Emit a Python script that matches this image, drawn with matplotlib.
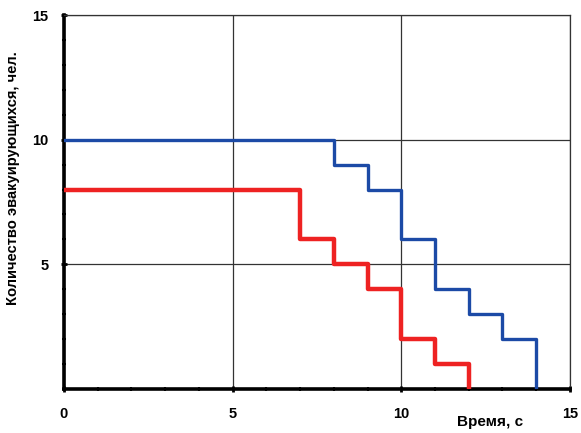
import matplotlib
matplotlib.use("Agg")
import matplotlib.pyplot as plt
from matplotlib.ticker import MultipleLocator

plt.rcParams['font.family'] = ['Liberation Sans', 'DejaVu Sans']

# data
t_blue = [0, 8, 9, 10, 11, 12, 13, 14]
n_blue = [10, 9, 8, 6, 4, 3, 2, 0]
t_red = [0, 7, 8, 9, 10, 11, 12]
n_red = [8, 6, 5, 4, 2, 1, 0]

x_ticks = [0, 5, 10, 15]
y_ticks = [5, 10, 15]

fig = plt.figure(figsize=(5.81, 4.33), dpi=100)
ax = fig.add_axes([0.110, 0.1016, 0.871, 0.8637])

ax.set_xlim(0, 15)
ax.set_ylim(0, 15)

ax.grid(True, color='#333333', linewidth=0.9)
ax.set_axisbelow(True)

ax.step(t_blue, n_blue, where='post', color='#1c4aa6', linewidth=2.4, zorder=3)
ax.step(t_red, n_red, where='post', color='#ee2222', linewidth=3.2, zorder=4)

ax.set_xticks(x_ticks)
ax.set_yticks(y_ticks)
ax.xaxis.set_minor_locator(MultipleLocator(1))
ax.yaxis.set_minor_locator(MultipleLocator(1))
ax.tick_params(which='major', direction='inout', length=4, width=2,
               labelsize=10.5)
ax.tick_params(axis='x', which='major', pad=11)
ax.tick_params(axis='y', which='major', pad=9)
ax.tick_params(which='minor', direction='inout', length=3, width=1.5)
for lab in ax.get_xticklabels() + ax.get_yticklabels():
    lab.set_fontweight('bold')

for side in ['left', 'bottom']:
    ax.spines[side].set_linewidth(2.6)
    ax.spines[side].set_color('black')
for side in ['top', 'right']:
    ax.spines[side].set_linewidth(0.9)
    ax.spines[side].set_color('#333333')

ax.set_xlabel('Время, с', fontsize=11, fontweight='bold')
ax.xaxis.set_label_coords(0.842, -0.07)
ax.set_ylabel('Количество эвакуирующихся, чел.', fontsize=10.6, fontweight='bold')
ax.yaxis.set_label_coords(-0.087, 0.564)

fig.savefig('out.png', dpi=100)
